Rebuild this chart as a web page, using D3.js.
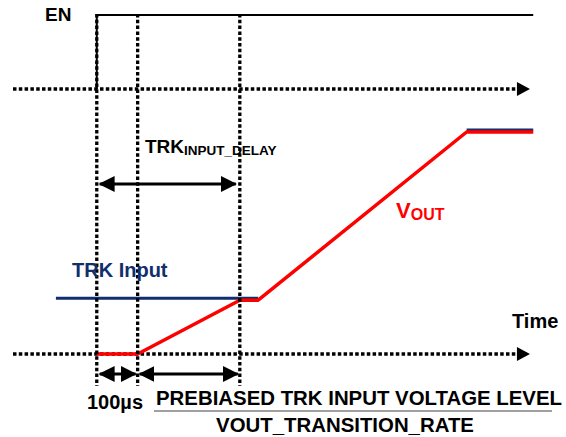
<!DOCTYPE html>
<html>
<head>
<meta charset="utf-8">
<script src="https://cdn.jsdelivr.net/npm/d3@7"></script>
<style>
  body { margin: 0; background: #fff; }
  svg text { font-family: "Liberation Sans", Arial, sans-serif; font-weight: bold; }
</style>
</head>
<body>
<div id="chart"></div>
<script>
// time in µs, levels in volts (EN is 0/1)
var guideTimes = [0, 100, 350];            // dotted vertical markers
var enTime = [0, 0, 1068];
var enLevel = [0, 1, 1];
var trkTime = [-100, 395, null, 905, 1068];
var trkLevel = [0.8, 0.8, null, 3.3, 3.3];
var voutTime = [0, 100, 350, 395, 905, 1068];
var voutLevel = [0, 0, 0.8, 0.8, 3.3, 3.3];
var axisStart = -205, axisEnd = 1060;
var delaySpan = [0, 350];                  // TRK_INPUT_DELAY
var softSpan = [[0, 100], [100, 350]];     // 100µs + ramp to prebias

var width = 566, height = 437;
var navy = "#112e6d", red = "#ff0000";

var svg = d3.select("#chart").append("svg")
    .attr("width", width)
    .attr("height", height);

var x = d3.scaleLinear().domain([-205, 1065]).range([13, 532]);
var yV = d3.scaleLinear().domain([0, 3.3]).range([353, 131]);
var yEn = d3.scaleLinear().domain([0, 1]).range([89, 15]);

var defs = svg.append("defs");
defs.append("marker")
    .attr("id", "head")
    .attr("markerUnits", "userSpaceOnUse")
    .attr("markerWidth", 16).attr("markerHeight", 16)
    .attr("viewBox", "0 0 14 14")
    .attr("refX", 13).attr("refY", 7)
    .attr("orient", "auto-start-reverse")
    .append("path")
    .attr("d", "M0,0L14,7L0,14Z")
    .attr("fill", "#000");

function zip(t, v) {
  return t.map(function (d, i) { return {t: d, v: v[i]}; });
}

// dotted axes (EN baseline and time axis)
[yEn(0), yV(0) + 1].forEach(function (yy) {
  svg.append("line")
      .attr("x1", x(axisStart)).attr("x2", x(axisEnd) - 6)
      .attr("y1", yy).attr("y2", yy)
      .attr("stroke", "#000")
      .attr("stroke-width", 3.3)
      .attr("stroke-dasharray", "3.5,2.3");
  svg.append("path")
      .attr("d", d3.line()([[x(axisEnd) - 13, yy - 7], [x(axisEnd), yy], [x(axisEnd) - 13, yy + 7]]) + "Z")
      .attr("fill", "#000");
});

// EN signal
svg.append("path")
    .attr("d", d3.line().x(function (d) { return x(d.t); }).y(function (d) { return yEn(d.v); })(zip(enTime, enLevel)))
    .attr("fill", "none")
    .attr("stroke", "#000")
    .attr("stroke-width", 2);

// TRK input (navy)
var vline = d3.line()
    .defined(function (d) { return d.v != null; })
    .x(function (d) { return x(d.t); })
    .y(function (d) { return yV(d.v); });

svg.append("path")
    .attr("d", vline(zip(trkTime, trkLevel)))
    .attr("transform", "translate(0,-1)")
    .attr("fill", "none")
    .attr("stroke", navy)
    .attr("stroke-width", 3);

// VOUT (red)
svg.append("path")
    .attr("d", vline(zip(voutTime, voutLevel)))
    .attr("transform", "translate(0,1)")
    .attr("fill", "none")
    .attr("stroke", red)
    .attr("stroke-width", 3.5)
    .attr("stroke-linejoin", "round");

// dotted vertical guides
svg.selectAll(".guide")
    .data(guideTimes)
    .enter().append("line")
    .attr("class", "guide")
    .attr("x1", function (d) { return x(d); })
    .attr("x2", function (d) { return x(d); })
    .attr("y1", 14).attr("y2", 386)
    .attr("stroke", "#000")
    .attr("stroke-width", 3.3)
    .attr("stroke-dasharray", "3.5,2.3");

// double-headed arrows
function dblArrow(t0, t1, yy, pad0, pad1) {
  svg.append("line")
      .attr("x1", x(t0) + pad0).attr("x2", x(t1) - pad1)
      .attr("y1", yy).attr("y2", yy)
      .attr("stroke", "#000")
      .attr("stroke-width", 3)
      .attr("marker-start", "url(#head)")
      .attr("marker-end", "url(#head)");
}
dblArrow(delaySpan[0], delaySpan[1], 184, 3, 4);
dblArrow(softSpan[0][0], softSpan[0][1], 374, 3, 2);
dblArrow(softSpan[1][0], softSpan[1][1], 374, 2, 2);

// labels
svg.append("text").attr("x", 45).attr("y", 21).attr("font-size", 19).text("EN");

var trk = svg.append("text").attr("x", 145).attr("y", 153).attr("font-size", 19);
trk.append("tspan").text("TRK");
trk.append("tspan").attr("font-size", 13.5).attr("dy", 2).text("INPUT_DELAY");

svg.append("text").attr("x", 72).attr("y", 277).attr("font-size", 20)
    .attr("fill", navy).text("TRK Input");

var vo = svg.append("text").attr("x", 396).attr("y", 218).attr("font-size", 22).attr("fill", red);
vo.append("tspan").text("V");
vo.append("tspan").attr("font-size", 16).attr("dy", 2).text("OUT");

svg.append("text").attr("x", 512).attr("y", 328).attr("font-size", 20).text("Time");

svg.append("text").attr("x", 87).attr("y", 409).attr("font-size", 20).text("100µs");

svg.append("text").attr("x", 359).attr("y", 405).attr("font-size", 20.4)
    .attr("text-anchor", "middle").text("PREBIASED TRK INPUT VOLTAGE LEVEL");
svg.append("line")
    .attr("x1", 154).attr("x2", 552)
    .attr("y1", 411).attr("y2", 411)
    .attr("stroke", "#808080")
    .attr("stroke-width", 1.5);
svg.append("text").attr("x", 345).attr("y", 432).attr("font-size", 20.4)
    .attr("text-anchor", "middle").text("VOUT_TRANSITION_RATE");
</script>
</body>
</html>
